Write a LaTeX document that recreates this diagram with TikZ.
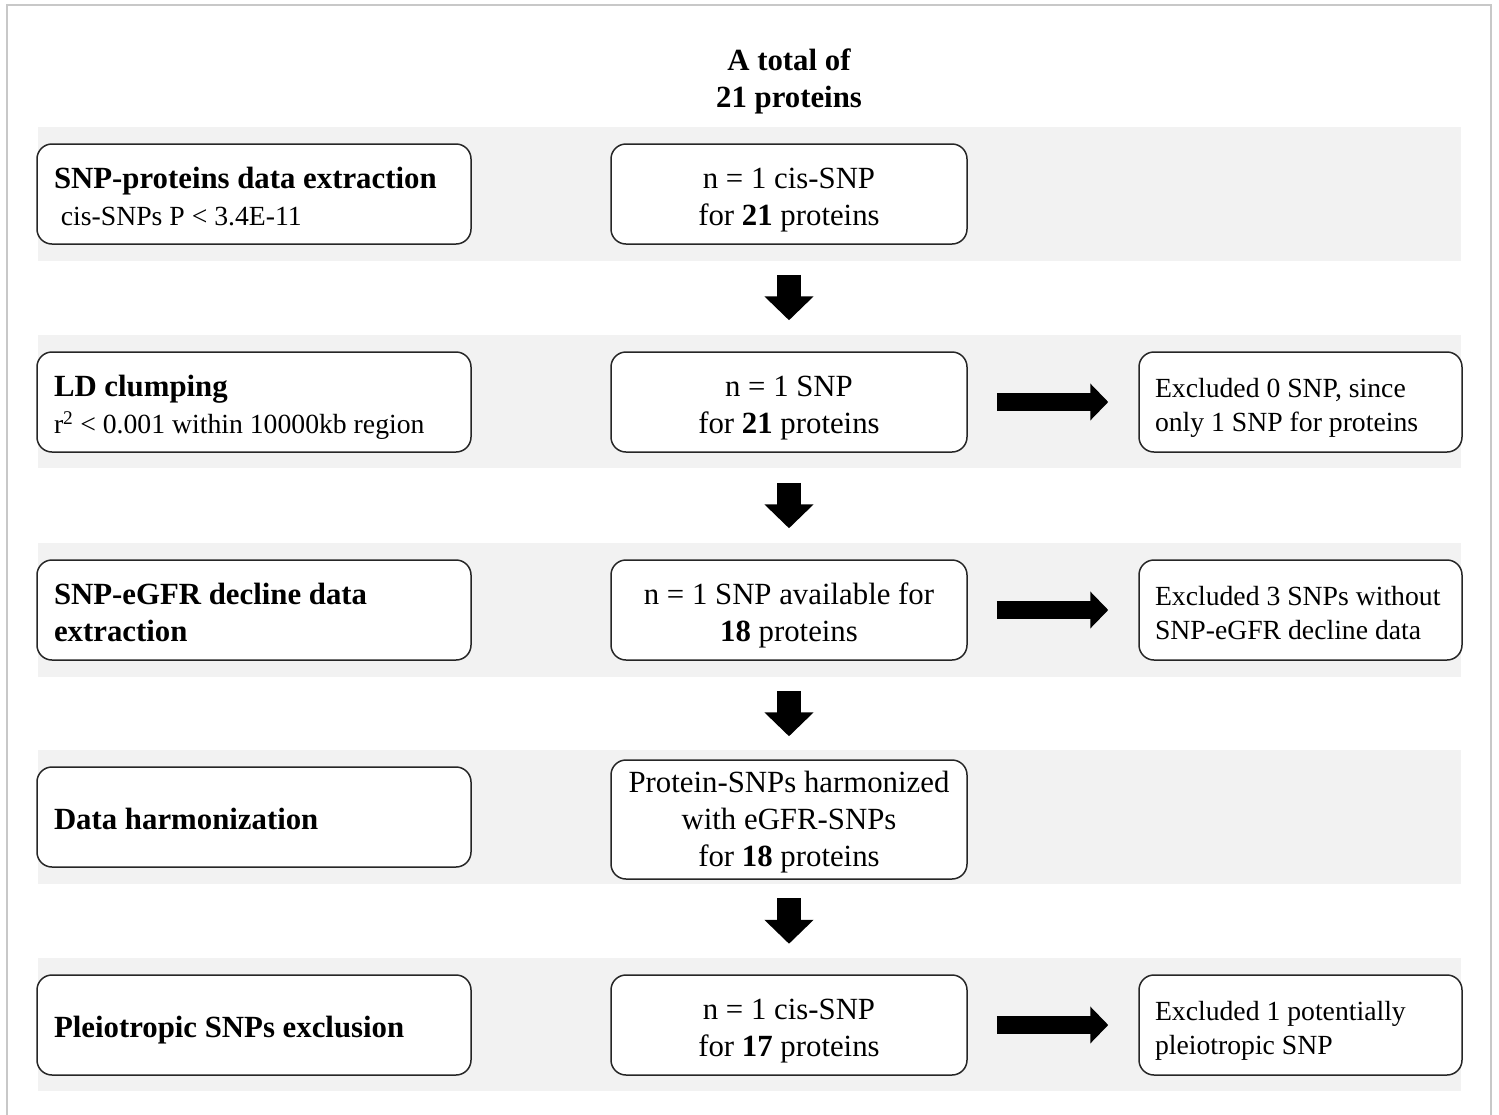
\documentclass[tikz,border=0pt]{standalone}
\usepackage{fontspec}
\setmainfont{Liberation Serif}
\usetikzlibrary{arrows.meta,calc}
\definecolor{bandgray}{HTML}{F2F2F2}
\definecolor{framegray}{HTML}{C8C8C8}
\definecolor{boxline}{HTML}{262626}
\newcommand{\topstrutA}{\rule{0pt}{32.1pt}}
\newcommand{\botstrutA}{\rule[-6.7pt]{0pt}{6.7pt}}
\newcommand{\botstrutC}{\rule[-12.2pt]{0pt}{12.2pt}}
\newcommand{\topstrutB}{\rule{0pt}{29.2pt}}
\newcommand{\botstrutB}{\rule[-6pt]{0pt}{6pt}}
\newcommand{\natspaces}{\spaceskip=\fontdimen2\font\xspaceskip=\fontdimen2\font\hyphenpenalty=10000\relax}
\newcommand{\smalltxt}{\fontsize{27.7}{34}\selectfont\natspaces}
\begin{document}
\begin{tikzpicture}[x=1pt,y=-1pt,
  box/.style={draw=boxline, line width=1.5pt, rounded corners=15pt, fill=white,
    minimum height=100pt, inner ysep=3pt, font=\fontsize{30.8}{37}\selectfont,
    execute at begin node={\natspaces\topstrutA}, execute at end node={\botstrutA}},
  leftbox/.style={box, text width=400pt, inner xsep=17pt, align=left},
  midbox/.style={box, text width=340pt, inner xsep=8pt, align=center},
  rightbox/.style={box, text width=291pt, inner xsep=16pt, align=left,
    font=\fontsize{27.7}{34}\selectfont,
    execute at begin node={\natspaces\topstrutB}, execute at end node={\botstrutB}},
  band/.style={fill=bandgray},
  downarrow/.style={line width=24pt, -{Triangle[width=48pt,length=24pt]}},
  rightarrow/.style={line width=18pt, -{Triangle[width=36pt,length=18pt]}},
  titletext/.style={align=center, text width=300pt, inner sep=0pt,
    font=\bfseries\fontsize{30.8}{37}\selectfont,
    execute at begin node={\natspaces\topstrutA}, execute at end node={\botstrutA}}
]
\useasboundingbox (0,0) rectangle (1499,1114);
\fill[white] (0,0) rectangle (1499,1114);
\draw[framegray, line width=2pt] (7,1130) -- (7,5) -- (1491,5) -- (1491,1130);

% bands
\fill[band] (38,127) rectangle (1461,261);
\fill[band] (38,335) rectangle (1461,468);
\fill[band] (38,543) rectangle (1461,677);
\fill[band] (38,750) rectangle (1461,884);
\fill[band] (38,958) rectangle (1461,1091);

% title
\node[titletext] (title) at (789,76.5) {A total of\\21 proteins};

% left boxes
\node[leftbox] (l1) at (254,194) {\textbf{SNP-proteins data extraction}\\{\smalltxt\hspace*{0.25em}cis-SNPs P < 3.4E-11}};
\node[leftbox] (l2) at (254,402) {\textbf{LD clumping}\\{\smalltxt r\textsuperscript{2} < 0.001 within 10000kb region}};
\node[leftbox] (l3) at (254,610) {\textbf{SNP-eGFR decline data}\\\textbf{extraction}};
\node[leftbox] (l4) at (254,817) {\textbf{Data harmonization}};
\node[leftbox] (l5) at (254,1025) {\textbf{Pleiotropic SNPs exclusion}};

% middle boxes
\node[midbox] (m1) at (789,194) {n = 1 cis-SNP\\for \textbf{21} proteins};
\node[midbox] (m2) at (789,402) {n = 1 SNP\\for \textbf{21} proteins};
\node[midbox] (m3) at (789,610) {n = 1 SNP available for\\\textbf{18} proteins};
\node[midbox, minimum height=119pt, inner ysep=0pt, execute at end node={\botstrutC}] (m4) at (789,819.5) {Protein-SNPs harmonized\\with eGFR-SNPs\\for \textbf{18} proteins};
\node[midbox] (m5) at (789,1025) {n = 1 cis-SNP\\for \textbf{17} proteins};

% right boxes
\node[rightbox] (r2) at (1300.5,402) {Excluded 0 SNP, since\\only 1 SNP for proteins};
\node[rightbox] (r3) at (1300.5,610) {Excluded 3 SNPs without\\SNP-eGFR decline data};
\node[rightbox] (r5) at (1300.5,1025) {Excluded 1 potentially\\pleiotropic SNP};

% down arrows
\draw[downarrow] ([yshift=-30pt]m1.south) -- ([yshift=31pt]m2.north);
\draw[downarrow] ([yshift=-30pt]m2.south) -- ([yshift=31pt]m3.north);
\draw[downarrow] ([yshift=-30pt]m3.south) -- ([yshift=23pt]m4.north);
\draw[downarrow] ([yshift=-18.5pt]m4.south) -- ([yshift=30.5pt]m5.north);

% right arrows
\draw[rightarrow] ([xshift=29pt]m2.east) -- ([xshift=-30pt]r2.west);
\draw[rightarrow] ([xshift=29pt]m3.east) -- ([xshift=-30pt]r3.west);
\draw[rightarrow] ([xshift=29pt]m5.east) -- ([xshift=-30pt]r5.west);
\end{tikzpicture}
\end{document}
